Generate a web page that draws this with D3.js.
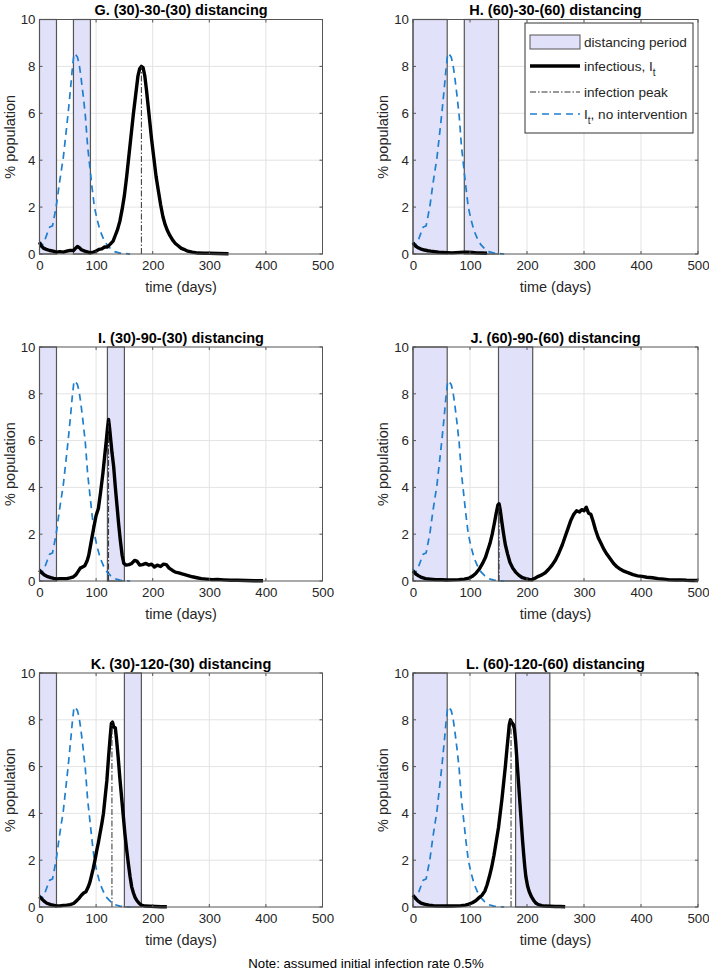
<!DOCTYPE html>
<html>
<head>
<meta charset="utf-8">
<script src="https://cdn.jsdelivr.net/npm/d3@7/dist/d3.min.js"></script>
<style>
  body { margin: 0; background: #fff; }
  svg text { font-family: "Liberation Sans", Arial, sans-serif; }
</style>
</head>
<body>
<svg id="fig" width="709" height="971"></svg>
<script>
// ticks
const xTicks = [0, 100, 200, 300, 400, 500];
const yTicks = [0, 2, 4, 6, 8, 10];

// no intervention curve (same in every panel)
const noIntervention = [[0,0.52],[4,0.35],[8,0.5],[14,0.9],[18,1.15],[23,1.2],[27,1.7],[30,2.1],[35,3.0],[42,4.1],[47,5.2],[51,6.1],[55,7.1],[58,7.9],[61,8.55],[64,8.5],[67,8.4],[70,8.1],[73,7.6],[77,6.8],[81,5.9],[85,4.6],[89,3.7],[93,2.8],[97,2.0],[102,1.45],[107,1.0],[113,0.65],[119,0.4],[126,0.22],[133,0.1],[142,0.04],[150,0.02],[160,0]];

// infectious curves per panel
const infG = [[0,0.5],[3,0.35],[7,0.25],[12,0.2],[18,0.15],[24,0.12],[30,0.08],[36,0.1],[42,0.08],[48,0.12],[54,0.15],[60,0.15],[64,0.25],[67,0.32],[70,0.28],[74,0.18],[80,0.12],[86,0.08],[90,0.05],[95,0.08],[100,0.12],[105,0.2],[110,0.22],[115,0.3],[120,0.3],[125,0.42],[130,0.55],[134,0.8],[138,1.05],[142,1.4],[146,1.9],[150,2.5],[154,3.3],[158,4.2],[162,5.1],[166,6.0],[170,6.8],[174,7.6],[177,7.9],[180,8.0],[183,7.95],[186,7.6],[189,7.0],[192,6.3],[195,5.6],[198,4.9],[202,4.1],[206,3.3],[210,2.7],[214,2.1],[218,1.6],[222,1.25],[226,1.0],[230,0.8],[235,0.6],[240,0.45],[245,0.35],[250,0.25],[255,0.2],[262,0.12],[270,0.08],[280,0.04],[290,0.03],[300,0.03],[315,0.02],[334,0.01]];
const infH = [[0,0.48],[4,0.35],[8,0.28],[13,0.22],[20,0.17],[26,0.14],[31,0.12],[38,0.1],[45,0.08],[52,0.07],[60,0.06],[68,0.05],[75,0.06],[82,0.07],[89,0.08],[96,0.08],[104,0.07],[112,0.05],[120,0.04],[130,0.03]];
const infI = [[0,0.46],[4,0.35],[8,0.27],[13,0.2],[20,0.14],[25,0.11],[30,0.09],[36,0.1],[42,0.1],[48,0.1],[54,0.13],[60,0.18],[64,0.26],[68,0.4],[72,0.55],[76,0.6],[80,0.65],[84,0.85],[87,1.1],[90,1.5],[93,1.9],[96,2.3],[100,2.8],[104,3.1],[108,3.8],[112,4.6],[115,5.3],[118,6.0],[120,6.5],[122,6.9],[124,6.5],[126,6.0],[128,5.5],[131,4.9],[134,4.0],[137,3.2],[140,2.4],[143,1.7],[146,1.1],[149,0.75],[153,0.68],[158,0.7],[163,0.75],[168,0.88],[172,0.85],[177,0.68],[182,0.7],[188,0.75],[193,0.68],[198,0.72],[203,0.6],[208,0.68],[214,0.62],[219,0.72],[224,0.7],[229,0.55],[235,0.45],[240,0.38],[246,0.35],[252,0.3],[258,0.26],[264,0.22],[270,0.18],[278,0.14],[286,0.1],[295,0.08],[305,0.06],[315,0.07],[325,0.05],[338,0.03],[350,0.03],[365,0.02],[380,0.01],[395,0.01]];
const infJ = [[0,0.43],[5,0.3],[10,0.22],[15,0.15],[22,0.1],[30,0.08],[40,0.06],[50,0.06],[60,0.04],[70,0.05],[80,0.06],[90,0.08],[98,0.12],[104,0.2],[110,0.32],[116,0.5],[122,0.75],[127,1.0],[131,1.3],[135,1.6],[139,2.0],[143,2.5],[146,2.9],[149,3.25],[151,3.3],[153,3.05],[156,2.5],[159,2.0],[162,1.55],[166,1.15],[170,0.8],[175,0.55],[180,0.38],[186,0.24],[192,0.14],[198,0.1],[204,0.07],[209,0.06],[214,0.12],[220,0.2],[226,0.26],[232,0.35],[238,0.5],[244,0.68],[250,0.9],[256,1.2],[262,1.55],[267,1.9],[272,2.25],[277,2.6],[282,2.85],[287,3.0],[292,2.95],[296,3.05],[300,3.0],[304,3.15],[308,2.9],[312,2.85],[316,2.55],[320,2.2],[325,1.85],[330,1.6],[335,1.35],[340,1.15],[346,0.95],[352,0.75],[358,0.6],[364,0.5],[370,0.42],[378,0.35],[386,0.27],[394,0.22],[402,0.2],[410,0.16],[420,0.14],[430,0.1],[440,0.08],[450,0.05],[460,0.04],[470,0.05],[480,0.03],[490,0.02],[500,0.02]];
const infK = [[0,0.45],[4,0.35],[8,0.25],[13,0.16],[20,0.1],[26,0.07],[30,0.05],[36,0.05],[42,0.07],[48,0.08],[54,0.1],[60,0.15],[65,0.25],[70,0.38],[74,0.5],[78,0.6],[82,0.65],[86,0.85],[89,1.05],[92,1.35],[95,1.65],[98,2.0],[101,2.4],[104,2.75],[107,3.15],[110,3.55],[113,4.0],[116,4.7],[119,5.4],[122,6.4],[125,7.3],[127,7.85],[129,7.9],[131,7.7],[134,7.65],[136,7.2],[139,6.4],[142,5.5],[145,4.7],[148,3.9],[151,3.1],[154,2.45],[157,1.85],[160,1.3],[163,0.85],[166,0.6],[169,0.4],[172,0.28],[176,0.16],[180,0.08],[186,0.04],[195,0.03],[205,0.02],[215,0.01],[225,0.01]];
const infL = [[0,0.5],[4,0.38],[9,0.25],[14,0.17],[20,0.12],[28,0.08],[36,0.06],[44,0.05],[52,0.05],[60,0.04],[68,0.04],[76,0.05],[84,0.06],[92,0.08],[98,0.12],[104,0.18],[110,0.27],[116,0.4],[121,0.5],[126,0.68],[130,0.95],[134,1.3],[138,1.7],[142,2.2],[146,2.8],[150,3.4],[153,4.0],[156,4.6],[159,5.3],[162,6.0],[165,6.8],[167,7.3],[169,7.8],[171,8.0],[173,7.9],[176,7.8],[178,7.6],[180,7.1],[182,6.4],[184,5.7],[186,5.0],[188,4.3],[190,3.6],[192,2.9],[194,2.3],[196,1.75],[198,1.3],[201,0.9],[204,0.65],[208,0.43],[212,0.27],[216,0.16],[220,0.1],[226,0.06],[232,0.04],[240,0.03],[250,0.02],[258,0.02],[267,0.01]];

// distancing periods [start, end] per panel
const periodsG = [[0,30],[60,90]];
const periodsH = [[0,60],[90,150]];
const periodsI = [[0,30],[120,150]];
const periodsJ = [[0,60],[150,210]];
const periodsK = [[0,30],[150,180]];
const periodsL = [[0,60],[180,240]];

// infection peak [day, value]
const peakG = [180, 8.0];
const peakI = [122, 6.9];
const peakJ = [151, 3.3];
const peakK = [128, 7.9];
const peakL = [172, 8.0];

const titles = ["G. (30)-30-(30) distancing", "H. (60)-30-(60) distancing",
  "I. (30)-90-(30) distancing", "J. (60)-90-(60) distancing",
  "K. (30)-120-(30) distancing", "L. (60)-120-(60) distancing"];

const panels = [
  {title: titles[0], inf: infG, periods: periodsG, peak: peakG, col: 0, row: 0, legend: false},
  {title: titles[1], inf: infH, periods: periodsH, peak: null,  col: 1, row: 0, legend: true},
  {title: titles[2], inf: infI, periods: periodsI, peak: peakI, col: 0, row: 1, legend: false},
  {title: titles[3], inf: infJ, periods: periodsJ, peak: peakJ, col: 1, row: 1, legend: false},
  {title: titles[4], inf: infK, periods: periodsK, peak: peakK, col: 0, row: 2, legend: false},
  {title: titles[5], inf: infL, periods: periodsL, peak: peakL, col: 1, row: 2, legend: false},
];

const colX = [[39.5, 322.5], [413, 698]];
const rowY = [[19.5, 254], [347, 581], [673, 907]];

const textCol = "#262626";
const blue = "#1f7fcf";
const periodFill = "#e1e1fa";
const tickFont = 13.3;
const labelFont = 14.5;

const svg = d3.select("#fig");

panels.forEach(p => {
  const [x0, x1] = colX[p.col];
  const [y0, y1] = rowY[p.row];
  const x = d3.scaleLinear().domain([0, 500]).range([x0, x1]);
  const y = d3.scaleLinear().domain([0, 10]).range([y1, y0]);
  const g = svg.append("g");

  // grid
  g.append("g").selectAll("line")
    .data(xTicks.slice(1, -1))
    .join("line")
    .attr("x1", d => x(d)).attr("x2", d => x(d))
    .attr("y1", y0).attr("y2", y1)
    .attr("stroke", "#e3e3e3").attr("stroke-width", 1);
  g.append("g").selectAll("line")
    .data(yTicks.slice(1, -1))
    .join("line")
    .attr("x1", x0).attr("x2", x1)
    .attr("y1", d => y(d)).attr("y2", d => y(d))
    .attr("stroke", "#e3e3e3").attr("stroke-width", 1);

  // distancing periods
  g.append("g").selectAll("rect")
    .data(p.periods)
    .join("rect")
    .attr("x", d => x(d[0]))
    .attr("y", y(10))
    .attr("width", d => x(d[1]) - x(d[0]))
    .attr("height", y(0) - y(10))
    .attr("fill", periodFill)
    .attr("stroke", "#555")
    .attr("stroke-width", 1.2);

  const line = d3.line().x(d => x(d[0])).y(d => y(d[1]));

  // no intervention
  g.append("path")
    .datum(noIntervention)
    .attr("d", line)
    .attr("fill", "none")
    .attr("stroke", blue)
    .attr("stroke-width", 1.7)
    .attr("stroke-dasharray", "7,5");

  // infectious
  g.append("path")
    .datum(p.inf)
    .attr("d", line)
    .attr("fill", "none")
    .attr("stroke", "#000")
    .attr("stroke-width", 3.4)
    .attr("stroke-linejoin", "round");

  // peak
  if (p.peak) {
    g.append("line")
      .attr("x1", x(p.peak[0])).attr("x2", x(p.peak[0]))
      .attr("y1", y(0)).attr("y2", y(p.peak[1]))
      .attr("stroke", "#333")
      .attr("stroke-width", 1)
      .attr("stroke-dasharray", "6,2,1.5,2");
  }

  // box + axes
  g.append("rect")
    .attr("x", x0).attr("y", y0)
    .attr("width", x1 - x0).attr("height", y1 - y0)
    .attr("fill", "none").attr("stroke", "#555").attr("stroke-width", 1);

  const ax = d3.axisBottom(x).tickValues(xTicks).tickSize(0).tickPadding(7);
  g.append("g")
    .attr("transform", `translate(0,${y1})`)
    .call(ax)
    .call(s => s.select(".domain").remove())
    .call(s => s.selectAll("text").attr("font-size", tickFont).attr("fill", textCol)
      .attr("font-family", "Liberation Sans, Arial, sans-serif"));
  const ay = d3.axisLeft(y).tickValues(yTicks).tickSize(0).tickPadding(4);
  g.append("g")
    .attr("transform", `translate(${x0},0)`)
    .call(ay)
    .call(s => s.select(".domain").remove())
    .call(s => s.selectAll("text").attr("font-size", tickFont).attr("fill", textCol)
      .attr("font-family", "Liberation Sans, Arial, sans-serif"));

  // inward tick marks on all sides
  const tk = g.append("g").attr("stroke", "#555").attr("stroke-width", 1);
  xTicks.forEach(t => {
    tk.append("line").attr("x1", x(t)).attr("x2", x(t)).attr("y1", y1).attr("y2", y1 - 3);
    tk.append("line").attr("x1", x(t)).attr("x2", x(t)).attr("y1", y0).attr("y2", y0 + 3);
  });
  yTicks.forEach(t => {
    tk.append("line").attr("x1", x0).attr("x2", x0 + 3).attr("y1", y(t)).attr("y2", y(t));
    tk.append("line").attr("x1", x1).attr("x2", x1 - 3).attr("y1", y(t)).attr("y2", y(t));
  });

  // labels
  g.append("text")
    .attr("x", (x0 + x1) / 2).attr("y", y0 - 4.5)
    .attr("text-anchor", "middle")
    .attr("font-size", 14.5).attr("font-weight", "bold").attr("fill", "#000")
    .text(p.title);
  g.append("text")
    .attr("x", (x0 + x1) / 2).attr("y", y1 + 38)
    .attr("text-anchor", "middle")
    .attr("font-size", labelFont).attr("fill", textCol)
    .text("time (days)");
  g.append("text")
    .attr("transform", `translate(${x0 - 25},${(y0 + y1) / 2}) rotate(-90)`)
    .attr("text-anchor", "middle")
    .attr("font-size", labelFont).attr("fill", textCol)
    .text("% population");

  if (p.legend) {
    const lx = x1 - 173, ly = y0 + 3.5, lw = 168, lh = 110;
    const lg = g.append("g").attr("transform", `translate(${lx},${ly})`);
    lg.append("rect").attr("width", lw).attr("height", lh)
      .attr("fill", "#fff").attr("stroke", "#333").attr("stroke-width", 1);
    const rows = [19, 43, 69, 91];
    lg.append("rect").attr("x", 5).attr("y", rows[0] - 7).attr("width", 50).attr("height", 14)
      .attr("fill", periodFill).attr("stroke", "#555");
    lg.append("line").attr("x1", 5).attr("x2", 55).attr("y1", rows[1]).attr("y2", rows[1])
      .attr("stroke", "#000").attr("stroke-width", 3.4);
    lg.append("line").attr("x1", 5).attr("x2", 55).attr("y1", rows[2]).attr("y2", rows[2])
      .attr("stroke", "#333").attr("stroke-width", 1).attr("stroke-dasharray", "6,2,1.5,2");
    lg.append("line").attr("x1", 5).attr("x2", 55).attr("y1", rows[3]).attr("y2", rows[3])
      .attr("stroke", blue).attr("stroke-width", 1.7).attr("stroke-dasharray", "7,5");
    const tx = 59;
    const lt = (r) => lg.append("text").attr("x", tx).attr("y", r + 5)
      .attr("font-size", 13.6).attr("fill", textCol);
    lt(rows[0]).text("distancing period");
    const t1 = lt(rows[1]);
    t1.append("tspan").text("infectious, I");
    t1.append("tspan").attr("dy", 4.5).attr("font-size", 10).text("t");
    lt(rows[2]).text("infection peak");
    const t3 = lt(rows[3]);
    t3.append("tspan").text("I");
    t3.append("tspan").attr("dy", 4.5).attr("font-size", 10).text("t");
    t3.append("tspan").attr("dy", -4.5).text(", no intervention");
  }
});

svg.append("text")
  .attr("x", 366).attr("y", 967.5)
  .attr("text-anchor", "middle")
  .attr("font-size", 13.2).attr("fill", "#000")
  .text("Note: assumed initial infection rate 0.5%");
</script>
</body>
</html>
